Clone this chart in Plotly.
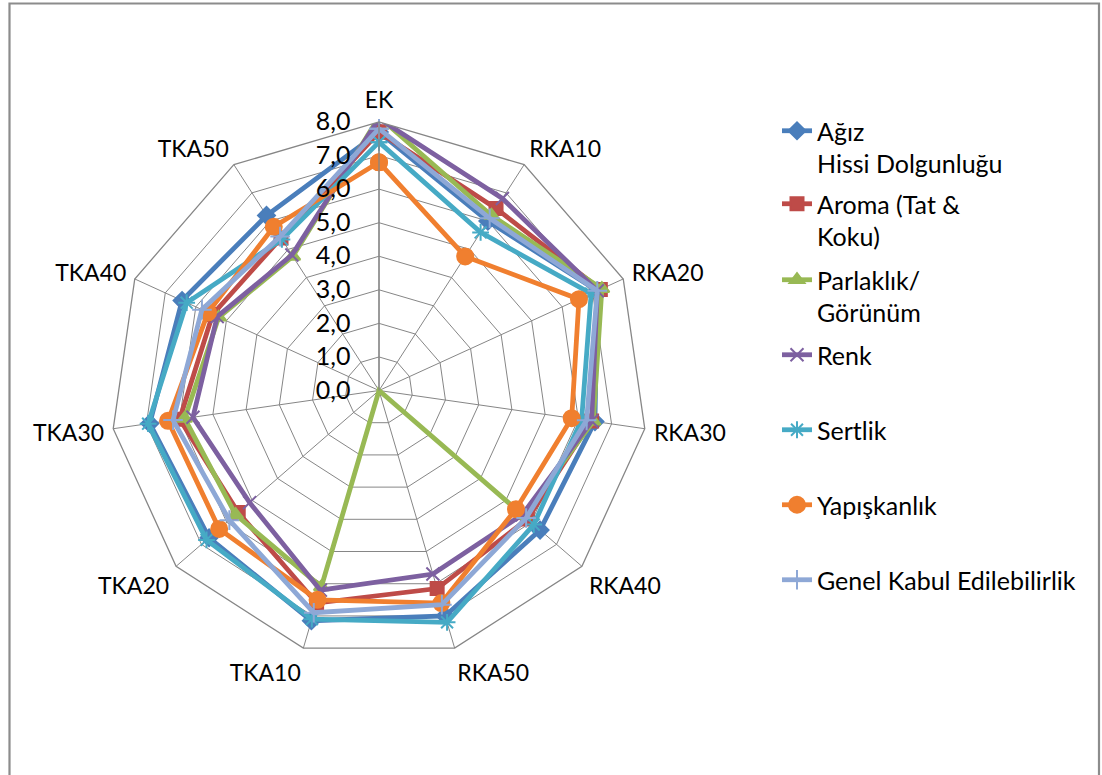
import plotly.graph_objects as go

# Sample codes around the radar (clockwise from top)
categories = ["EK", "RKA10", "RKA20", "RKA30", "RKA40", "RKA50",
              "TKA10", "TKA20", "TKA30", "TKA40", "TKA50"]

# Sensory scores per attribute
agiz_hissi = [7.7, 6.0, 7.15, 6.5, 6.35, 7.0, 7.15, 6.7, 6.9, 6.45, 6.2]
aroma = [7.7, 6.45, 7.25, 6.4, 5.85, 6.15, 6.6, 5.55, 6.0, 5.45, 5.4]
parlaklik = [8.15, 6.2, 7.3, 6.45, 5.7, 0.0, 6.1, 5.65, 5.85, 5.25, 4.75]
renk = [8.1, 6.8, 7.15, 6.4, 5.65, 5.7, 6.2, 5.1, 5.6, 5.3, 4.8]
sertlik = [7.4, 5.6, 6.95, 6.1, 6.1, 7.2, 7.1, 6.8, 6.95, 6.3, 5.35]
yapiskanlik = [6.8, 4.75, 6.55, 5.8, 5.4, 6.6, 6.5, 6.3, 6.35, 5.6, 5.8]
genel_kabul = [7.8, 6.1, 7.15, 6.25, 5.8, 6.65, 6.9, 5.9, 6.2, 5.8, 5.45]

series_names = ["Ağız<br>Hissi Dolgunluğu", "Aroma (Tat &<br>Koku)",
                "Parlaklık/<br>Görünüm", "Renk", "Sertlik",
                "Yapışkanlık", "Genel Kabul Edilebilirlik"]
series_values = [agiz_hissi, aroma, parlaklik, renk, sertlik,
                 yapiskanlik, genel_kabul]

radial_ticks = [0, 1, 2, 3, 4, 5, 6, 7, 8]
radial_tick_text = ["0,0", "1,0", "2,0", "3,0", "4,0", "5,0", "6,0", "7,0", "8,0"]

colors = ["#4A7EBB", "#BE4B48", "#98B954", "#7D60A0", "#46AAC5",
          "#F07F2F", "#8EA8D6"]
symbols = ["diamond", "square", "triangle-up", "x-thin-open",
           "asterisk-open", "circle", "cross-thin-open"]
marker_sizes = [13, 13, 13, 13, 14, 16, 14]

FONT = "Lato"
W, H = 1102, 775
PAD = "\u00a0" * 3  # keeps radial labels clear of the axis line

fig = go.Figure()
legend_ids = ["legend", "legend2", "legend3", "legend4",
              "legend5", "legend6", "legend7"]

for name, vals, col, sym, ms, lg in zip(series_names, series_values, colors,
                                        symbols, marker_sizes, legend_ids):
    fig.add_trace(go.Scatterpolar(
        r=vals + vals[:1],
        theta=categories + categories[:1],
        mode="lines+markers",
        name=name,
        legend=lg,
        cliponaxis=False,
        line=dict(color=col, width=4.8),
        marker=dict(symbol=sym, size=ms, color=col,
                    line=dict(color=col, width=2)),
    ))

# Legend rows, one legend box per series (first text line centres)
legend_rows = [131, 205, 281, 356, 431, 506, 581]
layout_legends = {}
for i, (lg, row) in enumerate(zip(legend_ids, legend_rows)):
    shift = 23 if i == 0 else 24
    layout_legends[lg] = dict(
        x=777 / W, xanchor="left",
        y=1 - (row - shift) / H, yanchor="top",
        valign="top",
        bgcolor="rgba(0,0,0,0)",
        font=dict(family=FONT, size=25, color="#000000"),
    )

cx, cy, R = 379, 390.5, 268.5
fig.update_layout(
    width=W, height=H,
    margin=dict(l=0, r=0, t=0, b=0),
    paper_bgcolor="white",
    showlegend=True,
    polar=dict(
        domain=dict(x=[(cx - R) / W, (cx + R) / W],
                    y=[1 - (cy + R) / H, 1 - (cy - R) / H]),
        bgcolor="white",
        gridshape="linear",
        radialaxis=dict(
            range=[0, 8],
            tickvals=radial_ticks,
            ticktext=[t + PAD for t in radial_tick_text],
            angle=90,
            tickangle=90,
            side="counterclockwise",
            showline=True,
            linecolor="#868686",
            linewidth=1.3,
            gridcolor="#868686",
            gridwidth=1.3,
            ticks="",
            tickfont=dict(family=FONT, size=25, color="#000000"),
        ),
        angularaxis=dict(
            direction="clockwise",
            rotation=90,
            linecolor="#868686",
            linewidth=1.3,
            gridcolor="#868686",
            gridwidth=1.3,
            ticks="outside",
            ticklen=4,
            tickcolor="rgba(0,0,0,0)",
            tickfont=dict(family=FONT, size=23, color="#000000"),
        ),
    ),
    shapes=[dict(type="rect", xref="paper", yref="paper",
                 x0=9.5 / W, x1=1099 / W, y0=-0.05, y1=1 - 3.5 / H,
                 line=dict(color="#8C8C8C", width=2.2),
                 fillcolor="rgba(0,0,0,0)", layer="below")],
    **layout_legends,
)

fig.write_html("out.html")
